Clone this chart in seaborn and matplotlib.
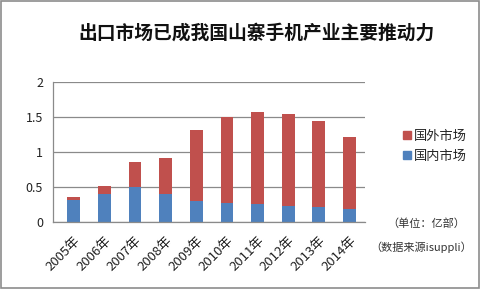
import matplotlib
matplotlib.use("Agg")
import matplotlib.pyplot as plt
import matplotlib.transforms as mtransforms
import seaborn as sns
import pandas as pd
import numpy as np
from matplotlib.patches import Rectangle

years = ["2005年", "2006年", "2007年", "2008年", "2009年", "2010年", "2011年", "2012年", "2013年", "2014年"]
domestic = [0.31, 0.40, 0.50, 0.40, 0.30, 0.27, 0.25, 0.23, 0.22, 0.19]
foreign = [0.04, 0.11, 0.36, 0.51, 1.01, 1.23, 1.32, 1.32, 1.23, 1.03]
yticks = [0, 0.5, 1, 1.5, 2]
ytick_labels = ["0", "0.5", "1", "1.5", "2"]

sns.set_theme(style="white")
plt.rcParams['font.family'] = ['Noto Sans CJK SC', 'DejaVu Sans']

RED = "#C0504D"
BLUE = "#4F81BD"

df = pd.DataFrame({"year": years, "domestic": domestic, "foreign": foreign})
df["total"] = df["domestic"] + df["foreign"]

fig = plt.figure(figsize=(4.8, 2.89), dpi=100)
fig.patches.append(Rectangle((0.002, 0.003), 0.996, 0.994, transform=fig.transFigure,
                             fill=False, edgecolor="#8c8c8c", linewidth=1.2))
ax = fig.add_axes([0.110, 0.232, 0.650, 0.484])

sns.barplot(data=df, x="year", y="total", color=RED, saturation=1, width=0.42, ax=ax,
            edgecolor="none", label="国外市场")
sns.barplot(data=df, x="year", y="domestic", color=BLUE, saturation=1, width=0.42, ax=ax,
            edgecolor="none", label="国内市场")

ax.set_xlim(-0.685, 9.49)
ax.set_ylim(0, 2)
ax.set_yticks(yticks)
ax.set_yticklabels(ytick_labels, fontsize=9, color="#222222")
ax.yaxis.grid(True, color="#8a8a8a", linewidth=0.9)
ax.set_axisbelow(True)
ax.set_xlabel("")
ax.set_ylabel("")

ax.set_xticks(range(len(years)))
ax.set_xticklabels(years, rotation=45, ha="right", rotation_mode="anchor", fontsize=9.5, color="#222222")
offset = mtransforms.ScaledTranslation(-8 / 100, 0, fig.dpi_scale_trans)
for lbl in ax.get_xticklabels():
    lbl.set_transform(lbl.get_transform() + offset)
ax.set_xticks(np.arange(-0.5, len(years), 1), minor=True)
ax.tick_params(axis="x", which="major", length=0, pad=9)
ax.tick_params(axis="x", which="minor", length=4, color="#8a8a8a", direction="out")
ax.tick_params(axis="y", length=3, color="#8a8a8a", direction="out", pad=4)

for s in ["top", "right"]:
    ax.spines[s].set_visible(False)
for s in ["left", "bottom"]:
    ax.spines[s].set_color("#8a8a8a")
    ax.spines[s].set_linewidth(0.9)

leg = ax.legend(handles=[Rectangle((0, 0), 1, 1, color=RED), Rectangle((0, 0), 1, 1, color=BLUE)],
                labels=["国外市场", "国内市场"], loc="upper left", bbox_to_anchor=(1.085, 0.745),
                frameon=False, fontsize=9.5, handlelength=0.6, handleheight=0.6,
                handletextpad=0.2, labelspacing=0.55)

fig.text(0.535, 0.885, "出口市场已成我国山寨手机产业主要推动力", ha="center", va="center",
         fontsize=13.5, fontweight="bold", color="#111111")
fig.text(0.888, 0.228, "（单位：亿部）", ha="center", va="center", fontsize=8, color="#333333")
fig.text(0.878, 0.145, "（数据来源isuppli）", ha="center", va="center", fontsize=8, color="#333333")

fig.savefig("out.png", dpi=100)
